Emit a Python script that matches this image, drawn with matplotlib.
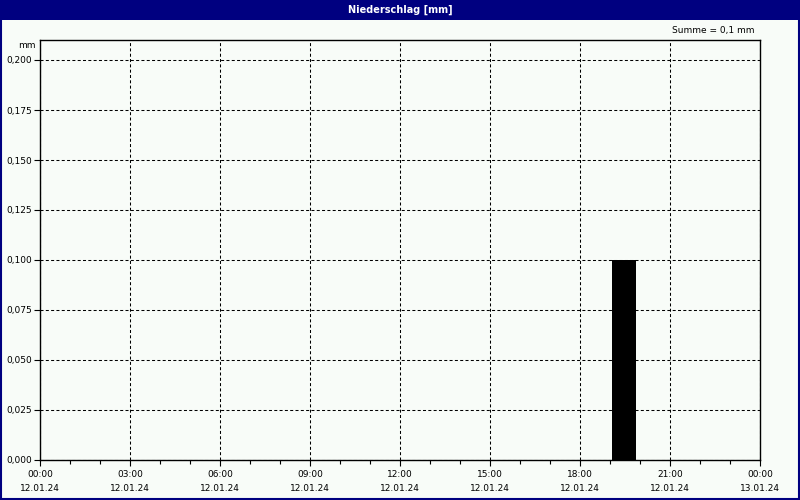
import matplotlib
matplotlib.use("Agg")
import matplotlib.pyplot as plt
from matplotlib.patches import Rectangle
import numpy as np

# Data
hours = list(range(24))
precip = [0, 0, 0, 0, 0, 0, 0, 0, 0, 0, 0, 0, 0, 0, 0, 0, 0, 0, 0, 0.1, 0, 0, 0, 0]
xtick_hours = [0, 3, 6, 9, 12, 15, 18, 21, 24]
xtick_labels = ["00:00\n12.01.24", "03:00\n12.01.24", "06:00\n12.01.24", "09:00\n12.01.24",
                "12:00\n12.01.24", "15:00\n12.01.24", "18:00\n12.01.24", "21:00\n12.01.24",
                "00:00\n13.01.24"]
yticks = [0, 0.025, 0.05, 0.075, 0.1, 0.125, 0.15, 0.175, 0.2]
ytick_labels = ["0,000", "0,025", "0,050", "0,075", "0,100", "0,125", "0,150", "0,175", "0,200"]
title = "Niederschlag [mm]"
summe = "Summe = 0,1 mm"

bg = "#F8FCF8"
navy = "#000080"

plt.rcParams['font.family'] = ['DejaVu Sans']
fig = plt.figure(figsize=(8, 5), dpi=100, facecolor=bg)

# title bar & border
fig.patches.append(Rectangle((0, 480/500), 1, 20/500, transform=fig.transFigure,
                             facecolor=navy, edgecolor='none', zorder=0))
fig.patches.append(Rectangle((0.001, 0.002), 0.998, 0.996, transform=fig.transFigure,
                             facecolor='none', edgecolor=navy, linewidth=1.5, zorder=5))
fig.text(0.5, 490/500, title, color='white', fontsize=7, fontweight='bold',
         ha='center', va='center')
fig.text(755/800, 1 - 31/500, summe, fontsize=6.5, ha='right', va='center')
fig.text(36/800, 1 - 45/500, "mm", fontsize=6.5, ha='right', va='center')

ax = fig.add_axes([40/800, 40/500, 720/800, 420/500])
ax.set_facecolor(bg)
vals = np.array(precip)
ax.bar(np.array(hours) + 0.47, vals, width=0.8, color='black', linewidth=0, zorder=3)

ax.set_xlim(0, 24)
ax.set_ylim(0, 0.21)
ax.set_xticks(xtick_hours)
ax.set_xticklabels(xtick_labels, fontsize=6.5, linespacing=1.75)
ax.set_xticks(range(25), minor=True)
ax.set_yticks(yticks)
ax.set_yticklabels(ytick_labels, fontsize=6.5)
ax.tick_params(axis='x', which='major', length=4, width=0.8, pad=3)
ax.tick_params(axis='x', which='minor', length=3, width=0.8)
ax.tick_params(axis='y', length=4, width=0.8, pad=2)
ax.grid(True, which='major', color='black', linestyle=(0, (2.9, 2.2)), linewidth=0.75)
for s in ax.spines.values():
    s.set_linewidth(1)
    s.set_color('black')

fig.savefig("out.png", dpi=100, facecolor=bg)
